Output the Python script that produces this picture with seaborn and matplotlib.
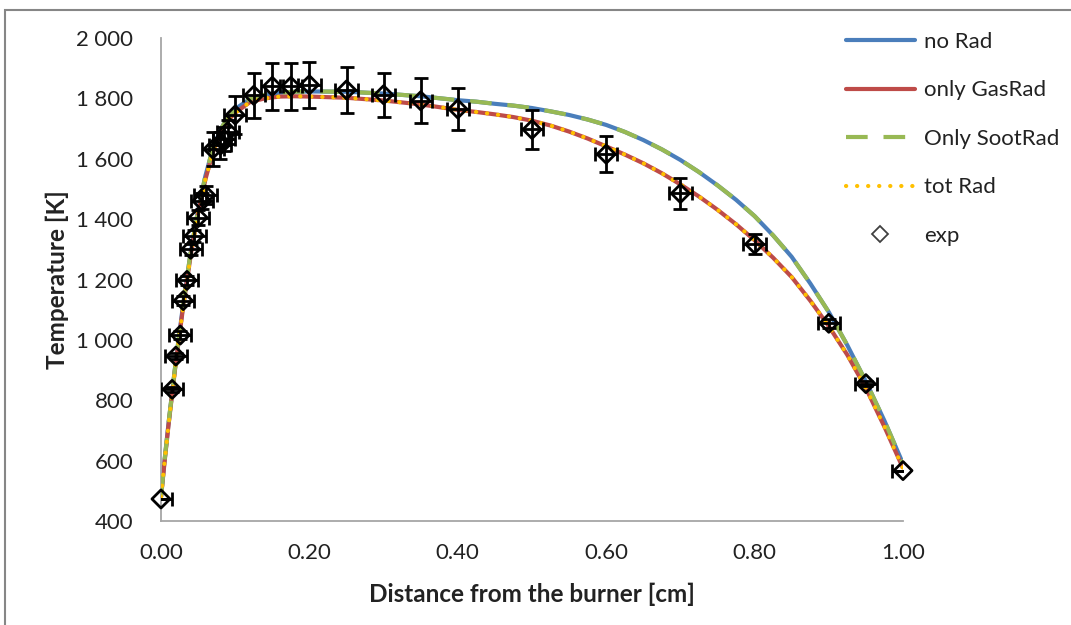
import numpy as np
import pandas as pd
import seaborn as sns
import matplotlib
matplotlib.use("Agg")
import matplotlib.pyplot as plt
from matplotlib.lines import Line2D
from matplotlib.patches import Rectangle
from matplotlib.ticker import FuncFormatter

# ---- model curves ----
x_model = [0.00, 0.005, 0.01, 0.02, 0.03, 0.04, 0.05, 0.06, 0.07, 0.08, 0.09, 0.10,
           0.12, 0.14, 0.16, 0.18, 0.20, 0.25, 0.30, 0.35, 0.40, 0.425, 0.45,
           0.475, 0.50, 0.525, 0.55, 0.575, 0.60, 0.625, 0.65, 0.675, 0.70,
           0.725, 0.75, 0.775, 0.80, 0.825, 0.85, 0.875, 0.90, 0.925, 0.95,
           0.975, 1.00]
no_rad = [480, 605, 720, 930, 1120, 1290, 1430, 1545, 1635, 1695, 1738, 1765,
          1798, 1812, 1819, 1822, 1823, 1822, 1816, 1807, 1794, 1789, 1782,
          1776, 1768, 1757, 1745, 1730, 1712, 1689, 1662, 1631, 1596,
          1556, 1512, 1464, 1410, 1346, 1275, 1187, 1092, 982, 862,
          732, 590]
only_gas_rad = [480, 600, 715, 925, 1112, 1280, 1420, 1533, 1622, 1683, 1726, 1752,
                1788, 1800, 1806, 1807, 1806, 1802, 1793, 1780, 1762, 1755, 1747,
                1738, 1726, 1710, 1690, 1667, 1641, 1614, 1585, 1552, 1515,
                1475, 1431, 1383, 1330, 1272, 1208, 1130, 1045, 950, 840,
                712, 575]
only_soot_rad = [480, 605, 720, 930, 1120, 1290, 1430, 1545, 1635, 1695, 1738, 1765,
                 1798, 1812, 1819, 1822, 1823, 1822, 1816, 1807, 1794, 1789, 1782,
                 1776, 1768, 1757, 1745, 1730, 1712, 1689, 1662, 1631, 1596,
                 1556, 1512, 1464, 1410, 1346, 1275, 1187, 1092, 982, 862,
                 732, 590]
tot_rad = [480, 600, 715, 925, 1112, 1280, 1420, 1533, 1622, 1683, 1726, 1752,
           1788, 1800, 1806, 1807, 1806, 1802, 1793, 1780, 1762, 1755, 1747,
           1738, 1726, 1710, 1690, 1667, 1641, 1614, 1585, 1552, 1515,
           1475, 1431, 1383, 1330, 1272, 1208, 1130, 1045, 950, 840,
           712, 575]

# ---- experiment ----
x_exp = [0.000, 0.015, 0.020, 0.026, 0.030, 0.035, 0.040, 0.045, 0.050, 0.055,
         0.060, 0.070, 0.080, 0.085, 0.090, 0.100, 0.125, 0.150, 0.175, 0.200,
         0.250, 0.300, 0.350, 0.400, 0.500, 0.600, 0.700, 0.800, 0.900, 0.950,
         1.000]
t_exp = [473, 836, 946, 1016, 1130, 1197, 1300, 1345, 1405, 1460,
         1480, 1632, 1645, 1665, 1690, 1745, 1810, 1840, 1840, 1845,
         1828, 1812, 1792, 1765, 1697, 1615, 1485, 1317, 1055, 855,
         567]
t_err = [0, 8, 10, 12, 15, 15, 18, 20, 25, 25,
         30, 55, 45, 40, 40, 62, 74, 77, 77, 77,
         76, 73, 75, 70, 64, 60, 50, 34, 15, 8,
         0]
x_err = [0.015] * len(x_exp)

labels = ["no Rad", "only GasRad", "Only SootRad", "tot Rad", "exp"]
y_ticks = [400, 600, 800, 1000, 1200, 1400, 1600, 1800, 2000]
x_ticks = [0.0, 0.2, 0.4, 0.6, 0.8, 1.0]

sns.set_theme(style="white")
plt.rcParams["font.family"] = ["Lato", "DejaVu Sans"]

W, H = 1071, 625
fig = plt.figure(figsize=(W / 100, H / 100), dpi=100)
ax = fig.add_axes([161 / W, 1 - 521 / H, (903 - 161) / W, (521 - 38) / H])

c_blue, c_red, c_green, c_orange = "#4A7EBB", "#BE4B48", "#98B954", "#FFC000"
lw = 3.0
dash_green = (0, (5.2, 3.8))
dot_orange = (0, (0.05, 2.6))

sns.lineplot(x=x_model, y=no_rad, ax=ax, color=c_blue, linewidth=lw,
             solid_capstyle="butt", zorder=2)
sns.lineplot(x=x_model, y=only_gas_rad, ax=ax, color=c_red, linewidth=lw,
             solid_capstyle="butt", zorder=2)
sns.lineplot(x=x_model, y=only_soot_rad, ax=ax, color=c_green, linewidth=lw,
             linestyle=dash_green, dash_capstyle="butt", zorder=3)
sns.lineplot(x=x_model, y=tot_rad, ax=ax, color=c_orange, linewidth=lw,
             linestyle=dot_orange, dash_capstyle="round", zorder=3)

ax.errorbar(x_exp, t_exp, yerr=t_err, xerr=x_err, fmt="none", ecolor="black",
            elinewidth=2, capsize=5, capthick=2, zorder=4)
sns.scatterplot(x=x_exp, y=t_exp, ax=ax, marker="D", s=85,
                facecolors="none", edgecolor="black", linewidth=2,
                zorder=5, clip_on=False)

ax.set_xlim(0, 1.0)
ax.set_ylim(400, 2000)
ax.set_xticks(x_ticks)
ax.set_yticks(y_ticks)
ax.xaxis.set_major_formatter(FuncFormatter(lambda v, p: f"{v:.2f}"))
ax.yaxis.set_major_formatter(
    FuncFormatter(lambda v, p: f"{v:,.0f}".replace(",", "\u2009\u2009")))
ax.tick_params(axis="both", length=0, labelsize=16, colors="#222222")
ax.tick_params(axis="y", pad=20)
ax.tick_params(axis="x", pad=16)
for s in ["top", "right"]:
    ax.spines[s].set_visible(False)
for s in ["left", "bottom"]:
    ax.spines[s].set_color("#A6A6A6")
    ax.spines[s].set_linewidth(1.3)

ax.set_xlabel("Distance from the burner [cm]", fontsize=17.5, fontweight="bold",
              color="#222222", labelpad=14)
ax.set_ylabel("Temperature [K]", fontsize=17.5, fontweight="bold",
              color="#222222", labelpad=5)
ax.grid(False)

handles = [
    Line2D([], [], color=c_blue, lw=lw),
    Line2D([], [], color=c_red, lw=lw),
    Line2D([], [], color=c_green, lw=lw, linestyle=dash_green),
    Line2D([], [], color=c_orange, lw=lw, linestyle=dot_orange,
           dash_capstyle="round"),
    Line2D([], [], color="none", marker="D", markersize=8, markerfacecolor="white",
           markeredgecolor="#404040", markeredgewidth=1.3),
]
leg = fig.legend(handles, labels, loc="upper left",
                 bbox_to_anchor=(846 / W, 1 - 32 / H),
                 bbox_transform=fig.transFigure,
                 frameon=False, fontsize=16, handlelength=3.1, handletextpad=0.4,
                 labelspacing=1.28, borderaxespad=0.0, borderpad=0.0)
for t in leg.get_texts():
    t.set_color("#222222")

fig.patches.append(Rectangle((5 / W, -0.2), 1.5, 1.2 - 10 / H,
                             transform=fig.transFigure, fill=False,
                             edgecolor="#868686", linewidth=1.5))

fig.savefig("out.png", dpi=100)
